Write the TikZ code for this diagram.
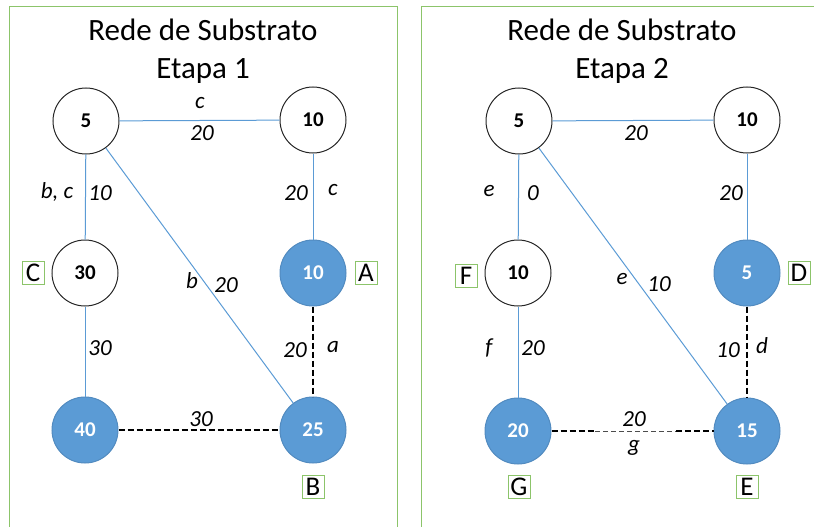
\documentclass[tikz,border=0pt]{standalone}
\usepackage{fontspec}
\setmainfont{Carlito}
\definecolor{nodeblue}{HTML}{5B9BD5}
\definecolor{frgreen}{HTML}{8CC46A}
\begin{document}
\begin{tikzpicture}[x=1pt,y=-1pt,
  vert/.style={circle,draw=black!85,line width=1pt,minimum size=66pt,inner sep=0pt,font=\fontsize{21}{23}\selectfont\bfseries},
  filled/.style={vert,fill=nodeblue,draw=nodeblue!90!black,text=white},
  edge/.style={nodeblue,line width=1pt},
  dedge/.style={black,line width=2.2pt,dash pattern=on 6pt off 3pt},
  lbl/.style={font=\fontsize{23}{25}\selectfont\itshape,inner sep=0pt},
  tag/.style={draw=frgreen,line width=1pt,inner sep=1pt,minimum width=22pt,minimum height=23pt,font=\fontsize{27}{28}\selectfont},
  title/.style={font=\fontsize{31}{38}\selectfont,align=center},
  frame/.style={draw=frgreen,line width=1pt}]
\useasboundingbox (0,0) rectangle (814,527);
\begin{scope}
\clip (0,0) rectangle (814,527);
\draw[frame] (9,7) rectangle (397,540);
\draw[frame] (421,7) rectangle (830,540);
\end{scope}
% Left panel
\node[title] (t1) at (203,51) {Rede de Substrato\\Etapa 1};
\node[vert] (l1) at (86,121) {5};
\node[vert] (l2) at (313,120) {10};
\node[vert] (l3) at (85,273) {30};
\node[filled] (l4) at (313,273) {10};
\node[filled] (l5) at (85,430) {40};
\node[filled] (l6) at (313,430) {25};
\draw[edge] (l1) -- (l2);
\draw[edge] (l1) -- (l3);
\draw[edge] (l1) -- (l6);
\draw[edge] (l2) -- (l4);
\draw[edge] (l3) -- (l5);
\draw[dedge] (l4) -- (l6);
\draw[dedge] (l5) -- (l6);
\node[lbl] (la1) at (200,103) {c};
\node[lbl] (la2) at (202,133) {20};
\node[lbl] (la3) at (57,192) {b, c};
\node[lbl] (la4) at (100,193) {10};
\node[lbl] (la5) at (296,193) {20};
\node[lbl] (la6) at (333,190) {c};
\node[lbl] (la7) at (192,281) {b};
\node[lbl] (la8) at (226,285) {20};
\node[lbl] (la9) at (100,348) {30};
\node[lbl] (la10) at (295,350) {20};
\node[lbl] (la11) at (333,347) {a};
\node[lbl] (la12) at (201,419) {30};
\node[tag] (tC) at (33,273) {C};
\node[tag] (tA) at (366,273) {A};
\node[tag] (tB) at (313,487) {B};
% Right panel
\node[title] (t2) at (622,51) {Rede de Substrato\\Etapa 2};
\node[vert] (r1) at (519,121) {5};
\node[vert] (r2) at (747,120) {10};
\node[vert] (r3) at (518,273) {10};
\node[filled] (r4) at (747,273) {5};
\node[filled] (r5) at (518,431) {20};
\node[filled] (r6) at (747,431) {15};
\draw[edge] (r1) -- (r2);
\draw[edge] (r1) -- (r3);
\draw[edge] (r1) -- (r6);
\draw[edge] (r2) -- (r4);
\draw[edge] (r3) -- (r5);
\draw[dedge] (r4) -- (r6);
\coordinate (g1) at (595,431);
\coordinate (g2) at (676,431);
\draw[black!70,line width=1pt,dash pattern=on 5pt off 3pt] (g1) -- (g2);
\draw[dedge] (r5) -- (g1);
\draw[dedge] (g2) -- (r6);
\node[lbl] (ra2) at (636,133) {20};
\node[lbl] (ra3) at (489,191) {e};
\node[lbl] (ra4) at (533,193) {0};
\node[lbl] (ra5) at (731,193) {20};
\node[lbl] (ra7) at (622,279) {e};
\node[lbl] (ra8) at (659,284) {10};
\node[lbl] (ra9) at (489,348) {f};
\node[lbl] (ra10) at (533,348) {20};
\node[lbl] (ra11) at (728,350) {10};
\node[lbl] (ra12) at (762,346) {d};
\node[lbl] (ra13) at (634,419) {20};
\node[lbl] (ra14) at (634,448) {g};
\node[tag] (tF) at (466,276) {F};
\node[tag] (tD) at (799,273) {D};
\node[tag] (tG) at (519,487) {G};
\node[tag] (tE) at (747,487) {E};
\end{tikzpicture}
\end{document}
